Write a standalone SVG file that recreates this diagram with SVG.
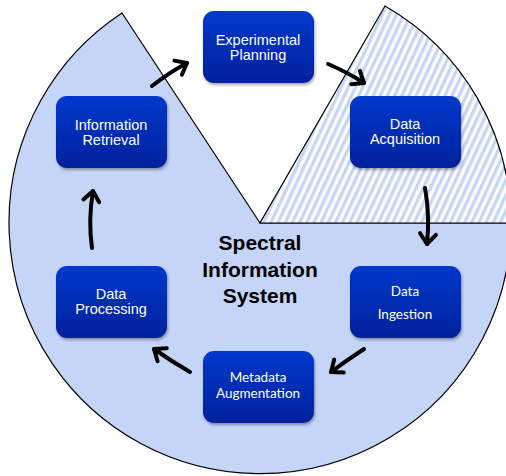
<svg xmlns="http://www.w3.org/2000/svg" width="506" height="476" viewBox="0 0 506 476">
<defs>
<linearGradient id="boxg" x1="0" y1="0" x2="0" y2="1">
<stop offset="0" stop-color="#0038cc"/>
<stop offset="1" stop-color="#00229c"/>
</linearGradient>
<pattern id="hatch" width="6.5" height="6.5" patternUnits="userSpaceOnUse" patternTransform="rotate(25)">
<rect width="6.5" height="6.5" fill="#ffffff"/>
<rect width="3.2" height="6.5" fill="#c5d5f8"/>
</pattern>
<filter id="sh" x="-20%" y="-20%" width="140%" height="150%">
<feDropShadow dx="1" dy="2" stdDeviation="1.8" flood-color="#000" flood-opacity="0.35"/>
</filter>
<marker id="chev" markerUnits="userSpaceOnUse" markerWidth="30" markerHeight="30" viewBox="-15 -15 30 30" refX="0" refY="0" orient="auto" overflow="visible">
<path d="M-10,-8 L0,0 L-10,8" fill="none" stroke="#000" stroke-width="4" stroke-linecap="round" stroke-linejoin="round"/>
</marker>
<style>
.box{fill:url(#boxg);filter:url(#sh);}
.t{fill:#fff;font-family:"Liberation Sans",Arial,sans-serif;font-size:14.5px;text-anchor:middle;}
.c{fill:#fff;font-family:Lato,"Open Sans",sans-serif;font-size:13.5px;text-anchor:middle;}
.title{fill:#000;font-family:"Liberation Sans",Arial,sans-serif;font-size:21px;font-weight:bold;text-anchor:middle;}
.arr{fill:none;stroke:#000;stroke-width:4;stroke-linecap:round;marker-end:url(#chev);}
.pie{stroke:#000;stroke-width:1.2;stroke-linejoin:miter;}
</style>
</defs>
<g id="background">
<path class="pie" d="M260,223 L122,13 A251,251 0 1,0 511,223 Z" fill="#c5d5f8"/>
<path class="pie" d="M260,223 L511,223 A251,251 0 0,0 385,6 Z" fill="url(#hatch)"/>
</g>
<g id="title">
<text class="title" x="260" y="250">Spectral</text>
<text class="title" x="260" y="277">Information</text>
<text class="title" x="260" y="303">System</text>
</g>
<g id="connectors">
<path class="arr" d="M152,86 Q170,72 187,63"/>
<path class="arr" d="M328,64 Q347,72 364,83"/>
<path class="arr" d="M425,188 Q430,215 427,244"/>
<path class="arr" d="M364,349 Q347,360 331,372"/>
<path class="arr" d="M190,372 Q171,361 154,349"/>
<path class="arr" d="M92,248 Q88,220 93,191"/>
</g>
<g id="experimental-planning">
<rect class="box" x="203" y="11" width="111" height="72" rx="11"/>
<text class="t" x="258" y="45">Experimental</text>
<text class="t" x="258" y="60">Planning</text>
</g>
<g id="information-retrieval">
<rect class="box" x="56" y="96" width="111" height="72" rx="11"/>
<text class="t" x="111" y="130">Information</text>
<text class="t" x="111" y="145">Retrieval</text>
</g>
<g id="data-acquisition">
<rect class="box" x="350" y="96" width="111" height="72" rx="11"/>
<text class="t" x="405" y="129">Data</text>
<text class="t" x="405" y="144">Acquisition</text>
</g>
<g id="data-processing">
<rect class="box" x="56" y="266" width="111" height="72" rx="11"/>
<text class="t" x="111" y="299">Data</text>
<text class="t" x="111" y="314">Processing</text>
</g>
<g id="data-ingestion">
<rect class="box" x="350" y="266" width="111" height="72" rx="11"/>
<text class="c" x="405" y="296">Data</text>
<text class="c" x="405" y="319">Ingestion</text>
</g>
<g id="metadata-augmentation">
<rect class="box" x="203" y="351" width="111" height="72" rx="11"/>
<text class="c" x="258" y="382">Metadata</text>
<text class="c" x="258" y="398">Augmentation</text>
</g>
</svg>
